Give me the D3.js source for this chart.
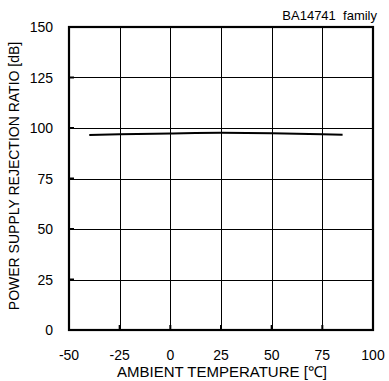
<!DOCTYPE html>
<html><head><meta charset="utf-8">
<script src="https://cdn.jsdelivr.net/npm/d3@7"></script>
<style>body{margin:0;background:#fff}svg{display:block}text{font-family:"Liberation Sans",Arial,sans-serif;fill:#000}</style>
</head><body><svg width="389" height="381"></svg>
<script>
const xTicks = [-50, -25, 0, 25, 50, 75, 100];
const yTicks = [0, 25, 50, 75, 100, 125, 150];
const temps = [-40, -25, 0, 25, 50, 75, 85];
const psrr = [96.5, 96.9, 97.3, 97.6, 97.4, 96.9, 96.7];

const svg = d3.select("svg");
const m = {l: 69, r: 373, t: 27, b: 330};
const x = d3.scaleLinear().domain([-50, 100]).range([m.l, m.r]);
const y = d3.scaleLinear().domain([0, 150]).range([m.b, m.t]);

const g = svg.append("g");
g.selectAll(".vg").data(xTicks.slice(1, -1)).join("line")
  .attr("x1", d => Math.round(x(d)) + 0.5).attr("x2", d => Math.round(x(d)) + 0.5)
  .attr("y1", m.t).attr("y2", m.b).attr("stroke", "#000").attr("stroke-width", 1);
g.selectAll(".hg").data(yTicks.slice(1, -1)).join("line")
  .attr("y1", d => Math.round(y(d)) + 0.5).attr("y2", d => Math.round(y(d)) + 0.5)
  .attr("x1", m.l).attr("x2", m.r).attr("stroke", "#000").attr("stroke-width", 1);
g.selectAll(".yt").data(yTicks).join("line")
  .attr("y1", d => y(d)).attr("y2", d => y(d)).attr("x1", m.l).attr("x2", m.l + 5)
  .attr("stroke", "#000").attr("stroke-width", 2);
g.selectAll(".xt").data(xTicks).join("line")
  .attr("x1", d => x(d)).attr("x2", d => x(d)).attr("y1", m.b).attr("y2", m.b - 5)
  .attr("stroke", "#000").attr("stroke-width", 2);
g.append("rect").attr("x", m.l).attr("y", m.t).attr("width", m.r - m.l).attr("height", m.b - m.t)
  .attr("fill", "none").attr("stroke", "#000").attr("stroke-width", 2.2);
g.append("path").datum(temps.map((t, i) => [t, psrr[i]]))
  .attr("d", d3.line().x(d => x(d[0])).y(d => y(d[1])).curve(d3.curveMonotoneX))
  .attr("fill", "none").attr("stroke", "#000").attr("stroke-width", 2);

svg.selectAll(".xl").data(xTicks).join("text")
  .attr("x", d => x(d)).attr("y", 360).attr("text-anchor", "middle").attr("font-size", 14).text(d => d);
svg.selectAll(".yl").data(yTicks).join("text")
  .attr("x", 53).attr("y", d => y(d) + 5).attr("text-anchor", "end").attr("font-size", 14).text(d => d);
svg.append("text").attr("x", 222).attr("y", 377).attr("text-anchor", "middle").attr("font-size", 15)
  .text("AMBIENT TEMPERATURE [℃]");
svg.append("text").attr("transform", "translate(19,176) rotate(-90)").attr("text-anchor", "middle").attr("font-size", 14)
  .text("POWER SUPPLY REJECTION RATIO [dB]");
svg.append("text").attr("x", 377).attr("y", 20).attr("text-anchor", "end").attr("font-size", 13)
  .style("white-space", "pre").text("BA14741  family");
</script></body></html>
